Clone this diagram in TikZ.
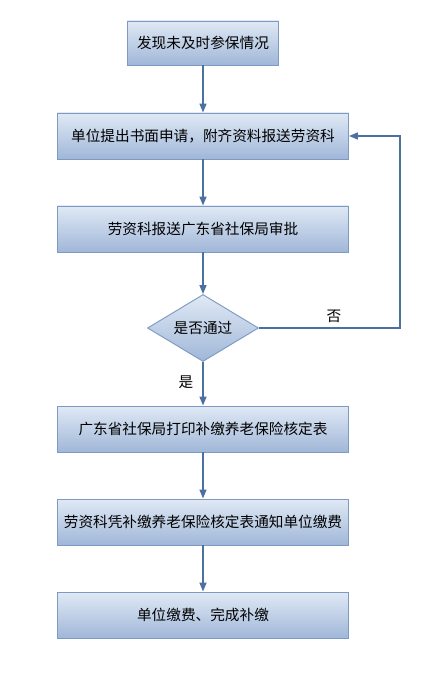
\documentclass[tikz,border=0pt]{standalone}
\usepackage{fontspec}
\newfontfamily\cjk{Noto Sans CJK SC}
\usetikzlibrary{shapes.geometric,arrows.meta}
\definecolor{boxtop}{HTML}{E0E9F5}
\definecolor{boxbot}{HTML}{A0B7D8}
\definecolor{boxline}{HTML}{7E9AC2}
\definecolor{flowline}{HTML}{4C70A0}
\begin{document}
\begin{tikzpicture}[x=0.03cm, y=-0.03cm,
    every node/.style={font=\cjk\fontsize{12.5}{15}\selectfont},
    stepbox/.style={draw=boxline, line width=0.8pt, top color=boxtop, bottom color=boxbot,
        minimum width=8.73cm, minimum height=1.38cm, inner sep=0pt},
    checkbox/.style={diamond, draw=boxline, line width=0.8pt, top color=boxtop, bottom color=boxbot,
        minimum width=3.33cm, minimum height=2.01cm, aspect=1.66, inner sep=0pt},
    flow/.style={draw=flowline, line width=1.2pt, -{Triangle[length=2.7mm,width=2.1mm]}}]
    \useasboundingbox (0,0) rectangle (441,683);
    \node[stepbox, minimum width=4.53cm, minimum height=1.32cm] (start) at (203,43) {发现未及时参保情况};
    \node[stepbox] (apply) at (203,136) {单位提出书面申请，附齐资料报送劳资科};
    \node[stepbox] (report) at (203,229) {劳资科报送广东省社保局审批};
    \node[checkbox] (check) at (203,328) {是否通过};
    \node[stepbox] (print) at (203,429) {广东省社保局打印补缴养老保险核定表};
    \node[stepbox] (notice) at (203,522) {劳资科凭补缴养老保险核定表通知单位缴费};
    \node[stepbox] (pay) at (203,615) {单位缴费、完成补缴};
    \foreach \a/\b in {start/apply, apply/report, report/check, check/print, print/notice, notice/pay}
        \draw[flow] (\a) -- (\b);
    % back to the application when refused
    \coordinate (turn) at (400,328);
    \draw[flow] (check.east) -- (turn) |- (apply.east);
    \node (no) at (334,316) {否};
    \node (yes) at (186,382) {是};
\end{tikzpicture}
\end{document}
